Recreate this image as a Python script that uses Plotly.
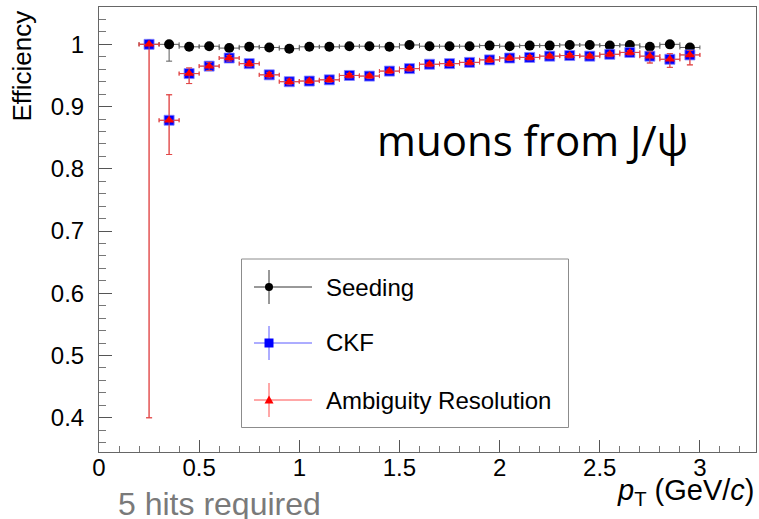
import plotly.graph_objects as go

# Transverse-momentum bin centres (GeV/c), bin width 0.1
pt = [0.25, 0.35, 0.45, 0.55, 0.65, 0.75, 0.85, 0.95, 1.05, 1.15,
      1.25, 1.35, 1.45, 1.55, 1.65, 1.75, 1.85, 1.95, 2.05, 2.15,
      2.25, 2.35, 2.45, 2.55, 2.65, 2.75, 2.85, 2.95]
bin_half_width = 0.05

# Seeding efficiency
seed_eff = [1.0, 1.0, 0.996, 0.997, 0.994, 0.996, 0.995, 0.993, 0.996, 0.996,
            0.997, 0.997, 0.996, 0.999, 0.997, 0.997, 0.997, 0.998, 0.997, 0.998,
            0.998, 0.999, 0.999, 0.998, 0.999, 0.996, 1.0, 0.995]
seed_err_up = [0.0, 0.0, 0.002, 0.002, 0.003, 0.002, 0.002, 0.003, 0.002, 0.002,
               0.002, 0.002, 0.002, 0.001, 0.002, 0.002, 0.002, 0.001, 0.002, 0.001,
               0.001, 0.001, 0.001, 0.001, 0.001, 0.002, 0.0, 0.003]
seed_err_down = [0.0, 0.027, 0.004, 0.003, 0.004, 0.003, 0.003, 0.004, 0.003, 0.003,
                 0.003, 0.003, 0.003, 0.002, 0.003, 0.003, 0.003, 0.002, 0.003, 0.002,
                 0.002, 0.002, 0.002, 0.002, 0.002, 0.004, 0.004, 0.006]

# CKF efficiency
ckf_eff = [1.0, 0.878, 0.953, 0.965, 0.978, 0.969, 0.951, 0.940, 0.941, 0.943,
           0.950, 0.949, 0.957, 0.961, 0.968, 0.969, 0.971, 0.975, 0.978, 0.979,
           0.981, 0.982, 0.981, 0.984, 0.987, 0.981, 0.976, 0.983]
ckf_err_up = [0.0, 0.041, 0.009, 0.006, 0.004, 0.004, 0.004, 0.004, 0.003, 0.003,
              0.003, 0.003, 0.003, 0.003, 0.003, 0.003, 0.003, 0.003, 0.003, 0.003,
              0.003, 0.003, 0.003, 0.003, 0.003, 0.007, 0.009, 0.007]
ckf_err_down = [0.6, 0.055, 0.016, 0.007, 0.005, 0.005, 0.005, 0.005, 0.004, 0.004,
                0.004, 0.004, 0.004, 0.004, 0.004, 0.004, 0.004, 0.004, 0.004, 0.004,
                0.004, 0.004, 0.004, 0.004, 0.004, 0.011, 0.013, 0.016]

# Ambiguity-resolution efficiency
amb_eff = [1.0, 0.878, 0.953, 0.965, 0.978, 0.969, 0.951, 0.940, 0.941, 0.943,
           0.950, 0.949, 0.957, 0.961, 0.968, 0.969, 0.971, 0.975, 0.978, 0.979,
           0.981, 0.982, 0.981, 0.984, 0.987, 0.981, 0.976, 0.983]
amb_err_up = [0.0, 0.041, 0.009, 0.006, 0.004, 0.004, 0.004, 0.004, 0.003, 0.003,
              0.003, 0.003, 0.003, 0.003, 0.003, 0.003, 0.003, 0.003, 0.003, 0.003,
              0.003, 0.003, 0.003, 0.003, 0.003, 0.007, 0.009, 0.007]
amb_err_down = [0.6, 0.055, 0.016, 0.007, 0.005, 0.005, 0.005, 0.005, 0.004, 0.004,
                0.004, 0.004, 0.004, 0.004, 0.004, 0.004, 0.004, 0.004, 0.004, 0.004,
                0.004, 0.004, 0.004, 0.004, 0.004, 0.011, 0.013, 0.016]

series_names = ["Seeding", "CKF", "Ambiguity Resolution"]

x_tickvals = [0, 0.5, 1, 1.5, 2, 2.5, 3]
x_ticktext = ["0", "0.5", "1", "1.5", "2", "2.5", "3"]
y_tickvals = [0.4, 0.5, 0.6, 0.7, 0.8, 0.9, 1.0]
y_ticktext = ["0.4", "0.5", "0.6", "0.7", "0.8", "0.9", "1"]

W, H = 759, 519
L, R, T, B = 99, 3, 7, 67
PW, PH = W - L - R, H - T - B


def px(x):
    """Page pixel column -> paper fraction."""
    return (x - L) / PW


def py(y):
    """Page pixel row (from top) -> paper fraction."""
    return (H - B - y) / PH


SEED_BAR = "#5a5a5a"
CKF_COL = "#0000ff"
AMB_COL = "#ff0000"
AMB_BAR = "rgba(225,70,70,0.9)"

fig = go.Figure()


def add_series(y, up, down, name, symbol, size, mcolor, barcolor, line=None):
    fig.add_trace(go.Scatter(
        x=pt, y=y, mode="markers", name=name, showlegend=False,
        marker=dict(symbol=symbol, size=size, color=mcolor,
                    line=line or dict(width=0)),
        error_y=dict(type="data", symmetric=False, array=up, arrayminus=down,
                     color=barcolor, thickness=1, width=3),
        error_x=dict(type="constant", value=bin_half_width,
                     color=barcolor, thickness=1, width=2),
        cliponaxis=False,
    ))


add_series(seed_eff, seed_err_up, seed_err_down, series_names[0],
           "circle", 10, "black", SEED_BAR)
add_series(ckf_eff, ckf_err_up, ckf_err_down, series_names[1],
           "square", 10, CKF_COL, AMB_BAR,
           line=dict(width=1, color="rgba(130,130,255,0.8)"))
add_series(amb_eff, amb_err_up, amb_err_down, series_names[2],
           "triangle-up", 9, AMB_COL, AMB_BAR)

# Hand-drawn legend, positioned in page pixels through an overlay axis
shapes = [dict(type="rect", xref="x2", yref="y2", x0=241.5, x1=568.5,
               y0=259, y1=427.5, line=dict(color="#8c8c8c", width=1),
               fillcolor="white", layer="below")]
legend_rows = [(287, "#333333"), (343, "#5a5aff"), (400, "#ff5050")]
for yc, col in legend_rows:
    shapes.append(dict(type="line", xref="x2", yref="y2", x0=254, x1=312,
                       y0=yc, y1=yc, line=dict(color=col, width=1)))
    shapes.append(dict(type="line", xref="x2", yref="y2", x0=269, x1=269,
                       y0=yc - 17, y1=yc + 17, line=dict(color=col, width=1)))

cx = 269
shapes += [
    dict(type="circle", xref="x2", yref="y2", x0=cx - 4, x1=cx + 4,
         y0=287 - 4, y1=287 + 4, fillcolor="black", line=dict(width=0)),
    dict(type="rect", xref="x2", yref="y2", x0=cx - 4.5, x1=cx + 4.5,
         y0=343 - 4.5, y1=343 + 4.5, fillcolor=CKF_COL, line=dict(width=0)),
    dict(type="path", xref="x2", yref="y2",
         path=f"M {cx - 4.5} 403.5 L {cx + 4.5} 403.5 L {cx} 395.5 Z",
         fillcolor=AMB_COL, line=dict(width=0)),
]

fig.add_trace(go.Scatter(x=[L, W - R], y=[H - B, T], mode="markers",
                         xaxis="x2", yaxis="y2", showlegend=False,
                         hoverinfo="skip", marker=dict(opacity=0)))

annotations = []
for (yc, _), name in zip(legend_rows, series_names):
    annotations.append(dict(xref="paper", yref="paper", x=px(324), y=py(yc),
                            text=name, showarrow=False, xanchor="left",
                            yanchor="middle",
                            font=dict(family="Liberation Sans", size=24,
                                      color="black")))

annotations += [
    dict(xref="paper", yref="paper", x=px(532), y=py(139),
         text="muons from J/ψ", showarrow=False, xanchor="center",
         yanchor="middle",
         font=dict(family="Open Sans", size=42, color="black")),
    dict(xref="paper", yref="paper", x=px(116), y=py(504),
         text="5 hits required", showarrow=False, xanchor="left",
         yanchor="middle",
         font=dict(family="Liberation Sans", size=32, color="#7a7a7a")),
    dict(xref="paper", yref="paper", x=px(757), y=py(492),
         text="<i>p</i><sub>T</sub> (GeV/<i>c</i>)",
         showarrow=False, xanchor="right", yanchor="middle",
         font=dict(family="Liberation Sans", size=29, color="black")),
    dict(xref="paper", yref="paper", x=px(22), y=py(9), text="Efficiency",
         textangle=-90, showarrow=False, xanchor="center", yanchor="top",
         font=dict(family="Liberation Sans", size=26, color="black")),
]

axis_font = dict(family="Liberation Sans", size=24, color="black")

fig.update_layout(
    width=W, height=H,
    margin=dict(l=L, r=R, t=T, b=B, pad=0),
    paper_bgcolor="white", plot_bgcolor="white",
    shapes=shapes, annotations=annotations,
    xaxis=dict(range=[0, 3.28], tickvals=x_tickvals, ticktext=x_ticktext,
               ticks="inside", ticklen=12, tickcolor="#555", tickwidth=1,
               minor=dict(dtick=0.1, ticks="inside", ticklen=6,
                          tickcolor="#777", showgrid=False),
               showline=True, linecolor="#666", linewidth=1, mirror=True,
               showgrid=False, zeroline=False, tickfont=axis_font,
               ticklabelstandoff=-6),
    yaxis=dict(range=[0.345, 1.06], tickvals=y_tickvals, ticktext=y_ticktext,
               ticks="inside", ticklen=13, tickcolor="#555", tickwidth=1,
               minor=dict(dtick=0.02, tick0=0.4, ticks="inside", ticklen=7,
                          tickcolor="#777", showgrid=False),
               showline=True, linecolor="#666", linewidth=1, mirror=True,
               showgrid=False, zeroline=False, tickfont=axis_font,
               ticklabelstandoff=9),
    xaxis2=dict(overlaying="x", range=[L, W - R], visible=False,
                fixedrange=True),
    yaxis2=dict(overlaying="y", range=[H - B, T], visible=False,
                fixedrange=True),
    showlegend=False,
)

fig.write_html("out.html")
